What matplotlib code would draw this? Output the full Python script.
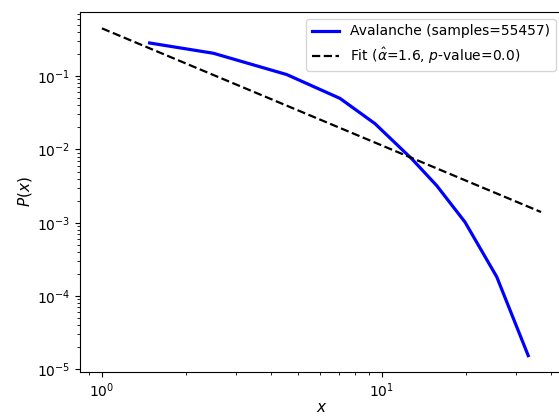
import matplotlib
matplotlib.use("Agg")
import matplotlib.pyplot as plt

aval_x = [1.48, 2.5, 4.57, 7.08, 9.44, 12.8, 15.7, 19.8, 25.7, 33.3]
aval_y = [0.283, 0.205, 0.105, 0.0497, 0.0225, 0.0074, 0.0032, 0.00102, 1.83e-4, 1.54e-5]

# Power-law fit line endpoints
fit_x = [1.0, 37.0]
fit_y = [0.448, 0.0014]

aval_label = "Avalanche (samples=55457)"
fit_label = r"Fit ($\hat{\alpha}$=1.6, $p$-value=0.0)"

fig = plt.figure(figsize=(5.59, 4.20), dpi=100)
ax = fig.add_axes([80/559, 48/420, (563-80)/559, (372-12)/420])

ax.plot(aval_x, aval_y, color="blue", lw=2.3, label=aval_label)
ax.plot(fit_x, fit_y, "k--", lw=1.6, label=fit_label)
ax.set_xscale("log")
ax.set_yscale("log")
ax.set_xlabel("$x$", fontsize=11, labelpad=0)
ax.set_ylabel("$P(x)$", fontsize=11, labelpad=2)
ax.legend(loc="upper right")

fig.savefig("out.png", dpi=100)
